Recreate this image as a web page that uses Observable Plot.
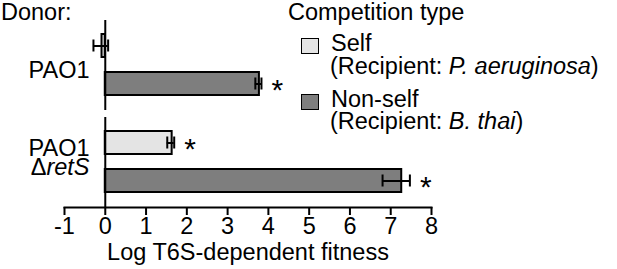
<!DOCTYPE html>
<html><head><meta charset="utf-8">
<script src="https://cdn.jsdelivr.net/npm/d3@7"></script>
<script src="https://cdn.jsdelivr.net/npm/@observablehq/plot@0.6"></script>
<style>
body{margin:0;background:#fff;font-family:"Liberation Sans",Arial,sans-serif;}
#chart{position:relative;width:617px;height:269px;overflow:hidden}
.ov{position:absolute;font-size:23.5px;line-height:23px;white-space:nowrap;color:#000}
.sw{position:absolute;width:16px;height:14px;border:1.5px solid #000}
</style></head><body><div id="chart"></div>
<script>
// ---- data ----
const donors = ["PAO1", "PAO1 ΔretS"];
const donorLabels = ["PAO1", "PAO1\nΔretS"];
const types = ["Self", "Non-self"];
const typeColors = ["#e4e4e4", "#7e7e7e"];
const typeRecipients = ["P. aeruginosa", "B. thai"];
const rowDonor = ["PAO1", "PAO1", "PAO1 ΔretS", "PAO1 ΔretS"];
const rowType = ["Self", "Non-self", "Self", "Non-self"];
const meanFitness = [-0.08, 3.78, 1.64, 7.27];
const errLow = [-0.29, 3.68, 1.52, 6.80];
const errHigh = [0.07, 3.83, 1.69, 7.47];
const significant = [false, true, true, true];
const xTicks = [-1, 0, 1, 2, 3, 4, 5, 6, 7, 8];
const xLabel = "Log T6S-dependent fitness";

const rows = rowDonor.map((d, i) => ({donor: d, type: rowType[i], mean: meanFitness[i], lo: errLow[i], hi: errHigh[i], sig: significant[i]}));
const labelRows = donors.map((d, i) => ({donor: d, label: donorLabels[i]}));

const plot = Plot.plot({
  width: 617, height: 269,
  marginLeft: 64, marginRight: 186, marginTop: 20, marginBottom: 62,
  style: {fontFamily: '"Liberation Sans", Arial, sans-serif', fontSize: "23.5px", color: "#000", background: "transparent", overflow: "visible"},
  x: {domain: [xTicks[0], xTicks[xTicks.length - 1]]},
  y: {domain: types, paddingInner: 0.386, paddingOuter: 0.368, axis: null},
  fy: {domain: donors, paddingInner: 0.075, paddingOuter: 0, axis: null},
  color: {domain: types, range: typeColors},
  marks: [
    Plot.barX(rows, {x: "mean", y: "type", fy: "donor", fill: "type", stroke: "#000", strokeWidth: 2}),
    Plot.ruleY(rows, {x1: "lo", x2: "hi", y: "type", fy: "donor", stroke: "#000", strokeWidth: 2}),
    Plot.tickX(rows, {x: "lo", y: "type", fy: "donor", stroke: "#000", strokeWidth: 2, insetTop: 5.5, insetBottom: 5.5}),
    Plot.tickX(rows, {x: "hi", y: "type", fy: "donor", stroke: "#000", strokeWidth: 2, insetTop: 5.5, insetBottom: 5.5}),
    Plot.ruleX([0], {stroke: "#000", strokeWidth: 2}),
    Plot.frame({anchor: "bottom", facetAnchor: "bottom", stroke: "#000", strokeWidth: 2}),
    Plot.axisX({ticks: xTicks, tickSize: 8, tickPadding: 2, strokeWidth: 2, tickFormat: d => String(d),
      label: xLabel, labelAnchor: "center", labelOffset: 52, labelArrow: "none"}),
    Plot.text(rows.filter(d => d.sig), {x: "hi", y: "type", fy: "donor", text: () => "*", dx: 16, dy: 6, fontSize: 30}),
    Plot.text(labelRows.slice(0, 1), {fy: "donor", text: "label", frameAnchor: "left", dx: 25, dy: 4.6, textAnchor: "end"}),
    Plot.text(labelRows.slice(1), {fy: "donor", text: "label", frameAnchor: "left", dx: 25, dy: -3.4, textAnchor: "end", lineHeight: 0.85})
  ]
});

// italicise gene name "retS" (Δ stays upright)
plot.querySelectorAll("tspan, text").forEach(el => {
  if (el.childElementCount === 0 && el.textContent === "ΔretS") {
    el.textContent = "Δ";
    const t = document.createElementNS("http://www.w3.org/2000/svg", "tspan");
    t.setAttribute("font-style", "italic");
    t.textContent = "retS";
    el.appendChild(t);
  }
});

const chart = document.getElementById("chart");
chart.appendChild(plot);

function ov(html, left, top) {
  const d = document.createElement("div");
  d.className = "ov"; d.style.left = left + "px"; d.style.top = top + "px";
  d.innerHTML = html; chart.appendChild(d);
}
ov("Donor:", 1, 0.5);
ov("Competition type", 288, 1);
const entryTop = [32, 87.5];
types.forEach((t, i) => {
  const s = document.createElement("div");
  s.className = "sw"; s.style.left = "301px"; s.style.top = (entryTop[i] + 6) + "px";
  s.style.background = typeColors[i];
  chart.appendChild(s);
  ov(t, 331, entryTop[i]);
  ov("(Recipient: <i>" + typeRecipients[i] + "</i>)", 330, entryTop[i] + 22.5);
});
</script></body></html>
